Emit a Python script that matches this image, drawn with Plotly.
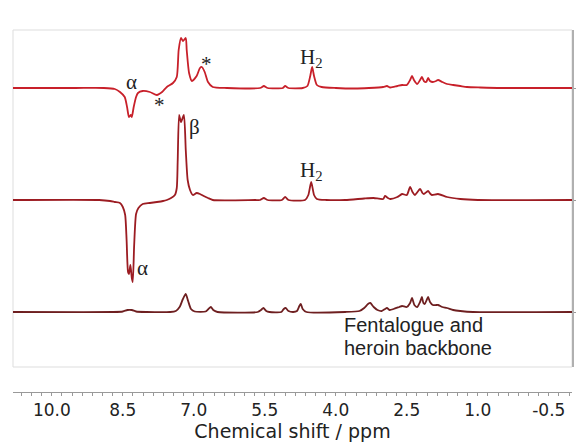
import plotly.graph_objects as go

# ---- data (ppm, intensity) ----
ppm3 = [10.82, 9.5, 8.9, 8.67, 8.56, 8.46, 8.41, 8.37, 8.33, 8.31, 8.27, 8.22, 8.18, 8.08, 7.93,
        7.78, 7.67, 7.57, 7.44, 7.36, 7.32, 7.27, 7.23, 7.17, 7.15, 7.10, 7.04, 6.94, 6.87, 6.83,
        6.77, 6.70, 6.60, 6.30, 5.60, 5.52, 5.44, 5.12, 5.07, 5.00, 4.70, 4.60, 4.54, 4.50, 4.46,
        4.40, 4.30, 4.0, 3.6, 3.3, 3.0, 2.92, 2.85, 2.70, 2.60, 2.50, 2.43, 2.39, 2.35, 2.28,
        2.22, 2.18, 2.14, 2.09, 2.05, 2.01, 1.95, 1.88, 1.84, 1.75, 1.65, 1.52, 1.37, 1.23, 0.95,
        0.5, -0.99]
int3 = [0, 0, 0, -1, -4, -9, -19, -29, -27, -29, -19, -9, -5, -3, -4,
        -7, -4, 1, 5, 11, 38, 50, 47, 50, 38, 15, 7, 12, 20, 21,
        16, 6, 1, 0, 0, 2, 0, 0, 2, 0, 0, 2, 12, 21, 12,
        3, 1, 0, -0.5, 0, 1, 2, 0.5, 2, 3, 3, 8, 12, 8, 4,
        8, 11, 7, 6, 10, 7, 6, 7, 8, 6, 4, 3, 2, 1, 0.5,
        0, 0]

ppm2 = [10.82, 9.0, 8.77, 8.67, 8.56, 8.50, 8.45, 8.42, 8.39, 8.37, 8.34, 8.31, 8.29, 8.26, 8.22,
        8.17, 8.08, 7.93, 7.78, 7.65, 7.57, 7.48, 7.40, 7.36, 7.34, 7.31, 7.27, 7.21, 7.17, 7.13,
        7.08, 7.02, 6.94, 6.87, 6.79, 6.70, 6.60, 5.70, 5.60, 5.52, 5.44, 5.14, 5.07, 5.00, 4.65,
        4.58, 4.52, 4.46, 4.40, 4.2, 3.8, 3.4, 3.2, 3.0, 2.96, 2.90, 2.85, 2.70, 2.60, 2.50,
        2.43, 2.38, 2.33, 2.22, 2.17, 2.14, 2.05, 2.00, 1.97, 1.84, 1.65, 1.37, 1.0, -0.99]
int2 = [0, 0, -1, -2, -3, -7, -15, -40, -72, -74, -65, -78, -82, -45, -14,
        -8, -4, -3, -2, -1, 0, 2, 5, 12, 40, 85, 78, 85, 50, 20,
        10, 5, 7, 6, 4, 2, 0, 0, 0, 2, 0, 0, 3, 0, 0,
        5, 18, 5, 1, 0, 0, 1.5, 2, 1, 4, 2, 1, 3, 6, 5,
        13, 8, 5, 11, 7, 6, 9, 6, 5, 6, 3, 1, 0, 0]

ppm1 = [10.82, 8.7, 8.5, 8.40, 8.31, 8.22, 8.0, 7.5, 7.38, 7.30, 7.23, 7.17, 7.12, 7.06, 6.98,
        6.75, 6.69, 6.64, 6.59, 6.50, 5.65, 5.58, 5.53, 5.47, 5.40, 5.15, 5.10, 5.06, 5.00, 4.90,
        4.82, 4.77, 4.74, 4.70, 4.62, 3.80, 3.50, 3.40, 3.32, 3.27, 3.20, 3.12, 3.03, 2.96, 2.92,
        2.86, 2.78, 2.66, 2.60, 2.50, 2.43, 2.39, 2.34, 2.28, 2.22, 2.18, 2.15, 2.12, 2.08, 2.05,
        2.01, 1.95, 1.88, 1.84, 1.75, 1.65, 1.52, 1.37, 1.1, -0.99]
int1 = [0, 0, 0.5, 2, 2, 0.5, 0, 0, 1, 5, 13, 18, 11, 3, 0.5,
        0.5, 3, 5, 2, 0, 0, 2, 4, 1, 0, 0, 3, 4, 1, 0,
        1, 6, 8, 3, 0, 0, 1, 4, 8, 9, 5, 2, 1, 3, 4,
        2, 3, 5, 6, 5, 9, 14, 7, 5, 10, 15, 9, 8, 12, 15,
        10, 7, 7, 7, 5, 4, 2, 1, 0, 0]

trace_labels = ["1", "2", "3"]
x_ticks = [10.0, 8.5, 7.0, 5.5, 4.0, 2.5, 1.0, -0.5]

# ---- layout constants ----
OFFSETS = [55, 167, 279]
COLORS = ["#6e1f20", "#9c1c22", "#c8202a"]

fig = go.Figure()
for p, v, off, col in zip([ppm1, ppm2, ppm3], [int1, int2, int3], OFFSETS, COLORS):
    fig.add_trace(go.Scatter(x=p, y=[off + a for a in v], mode="lines",
                             line=dict(color=col, width=1.8, shape="spline", smoothing=0.6),
                             showlegend=False, hoverinfo="skip"))

serif = dict(family="Liberation Serif", size=21, color="#222")
ann = [
    ("β", 7.25, 347), ("α", 8.31, 285), ("*", 6.74, 303), ("*", 7.72, 262),
    ("H<sub>2</sub>", 4.52, 309),
    ("β", 6.98, 240), ("α", 8.08, 99), ("H<sub>2</sub>", 4.52, 196),
]
for t, x, y in ann:
    fig.add_annotation(x=x, y=y, xref="x", yref="y", text=t, showarrow=False, font=serif,
                       xanchor="center", yanchor="middle")

sans = dict(family="Liberation Sans", size=20, color="#222")
fig.add_annotation(x=3.87, y=42, xref="x", yref="y", text="Fentalogue and", showarrow=False,
                   font=sans, xanchor="left", yanchor="middle")
fig.add_annotation(x=3.87, y=19, xref="x", yref="y", text="heroin backbone", showarrow=False,
                   font=sans, xanchor="left", yanchor="middle")

YDOM0 = 25 / 362
fig.add_shape(type="rect", xref="paper", yref="paper", x0=0, x1=1, y0=YDOM0, y1=1,
              line=dict(color="#dddddd", width=1), layer="below")

# the page body adds an 8px margin; compensate so the plot lands where the reference has it
fig.update_layout(
    width=576, height=434,
    margin=dict(l=5, r=12, t=22, b=50),
    paper_bgcolor="white", plot_bgcolor="white",
    xaxis=dict(range=[10.82, -0.99], anchor="free", position=0,
               tickvals=x_ticks, ticktext=[f"{v:.1f}" for v in x_ticks],
               showline=True, linecolor="#999", linewidth=1,
               ticks="outside", ticklen=3, tickcolor="#999",
               minor=dict(ticks="outside", ticklen=3, tickcolor="#999",
                          dtick=1.5 / 7, tick0=-0.5),
               showgrid=False, zeroline=False,
               tickfont=dict(family="DejaVu Sans", size=17, color="#222"),
               title=dict(text="Chemical shift / ppm", standoff=2,
                          font=dict(family="DejaVu Sans", size=19, color="#222"))),
    yaxis=dict(range=[0, 337], domain=[YDOM0, 1], side="right",
               tickvals=OFFSETS, ticktext=trace_labels,
               showline=True, linecolor="#b0b0b0", linewidth=2,
               ticks="outside", ticklen=4, tickcolor="#999",
               showgrid=False, zeroline=False, automargin=False,
               tickfont=dict(family="DejaVu Sans", size=17, color="#222")),
)
fig.update_xaxes(automargin=False)

fig.write_html("out.html")
